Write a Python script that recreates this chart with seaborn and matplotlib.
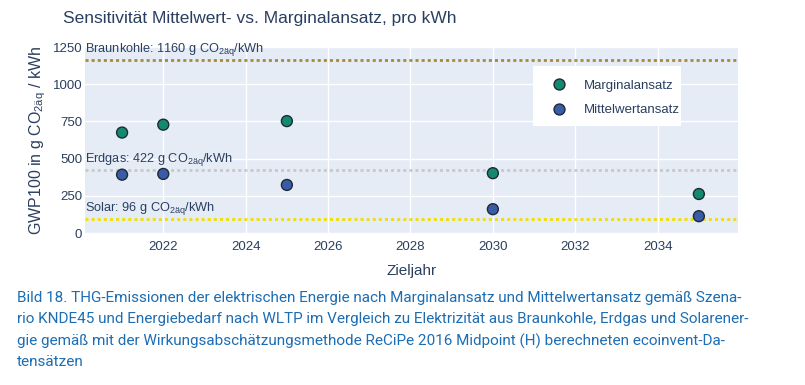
import pandas as pd
import matplotlib
matplotlib.use("Agg")
import matplotlib.pyplot as plt
import matplotlib.transforms as mtransforms
from matplotlib.patches import Rectangle
import seaborn as sns

# ---------------------------------------------------------------
# Daten
# ---------------------------------------------------------------
jahre = [2021, 2022, 2025, 2030, 2035]
marginal = [675, 728, 752, 402, 262]
mittelwert = [392, 397, 323, 160, 113]
reihen = ["Marginalansatz", "Mittelwertansatz"]

referenz_namen = ["Braunkohle", "Erdgas", "Solar"]
referenz_werte = [1160, 422, 96]
referenz_farben = ["#a88a3c", "#c9c9c9", "#f0e000"]

yticks = [0, 250, 500, 750, 1000, 1250]
xticks = [2022, 2024, 2026, 2028, 2030, 2032, 2034]

df = pd.DataFrame({
    "Zieljahr": jahre * 2,
    "GWP": marginal + mittelwert,
    "Ansatz": [reihen[0]] * len(jahre) + [reihen[1]] * len(jahre),
})

TXT = "#2a3f5f"
sns.set_theme(style="darkgrid", rc={
    "axes.facecolor": "#e5ecf6",
    "grid.color": "white",
    "grid.linewidth": 1.0,
})
plt.rcParams["font.family"] = ["Liberation Sans", "DejaVu Sans"]
plt.rcParams["lines.scale_dashes"] = False

fig = plt.figure(figsize=(8.05, 3.85), dpi=100)
ax = fig.add_axes([85 / 805, 1 - 233 / 385, 653 / 805, 186 / 385])

for name, wert, farbe in zip(referenz_namen, referenz_werte, referenz_farben):
    ax.axhline(wert, color=farbe, lw=2.0, ls=(0, (2.2, 2.2)), zorder=2)
    trans = mtransforms.blended_transform_factory(ax.transAxes, ax.transData)
    ax.annotate(f"{name}: {wert} g CO$_\\mathregular{{2äq}}$/kWh",
                xy=(0, wert), xycoords=trans, xytext=(0, 1.5), textcoords="offset points",
                ha="left", va="bottom", fontsize=9.2, color=TXT, zorder=3)

sns.scatterplot(data=df, x="Zieljahr", y="GWP", hue="Ansatz",
                palette=["#138a6f", "#3a5ba6"], s=62, edgecolor="#1e2a36",
                linewidth=1.0, ax=ax, zorder=4)

ax.set_xlim(2020.1, 2035.95)
ax.set_ylim(0, 1250)
ax.set_xticks(xticks)
ax.set_yticks(yticks)
ax.tick_params(colors=TXT, labelsize=9.5, length=0)
ax.tick_params(axis="y", pad=2)
ax.tick_params(axis="x", pad=6)
for s in ax.spines.values():
    s.set_visible(False)

ax.set_xlabel("Zieljahr", fontsize=11, color=TXT, labelpad=8)
ax.set_ylabel("GWP100 in g CO$_\\mathregular{2äq}$ / kWh", fontsize=11.5, color=TXT, labelpad=3)

# weisser Legendenkasten wie in der Vorlage (eng am Text)
ax.add_patch(Rectangle((448 / 653, 107 / 186), 148 / 653, 60 / 186,
                       transform=ax.transAxes, facecolor="white", edgecolor="none", zorder=4.5))
leg = ax.legend(loc="upper left", bbox_to_anchor=(0.677, 0.925), frameon=False,
                fontsize=9.5, labelcolor=TXT, borderpad=0.9, labelspacing=0.95,
                handletextpad=0.9, title=None)
leg.set_zorder(6)
for h in leg.legend_handles:
    h.set_markeredgecolor("#1e2a36")

fig.text(63 / 805, 1 - 18 / 385, "Sensitivität Mittelwert- vs. Marginalansatz, pro kWh",
         fontsize=12.5, color=TXT, ha="left", va="center")

caption = [
    "Bild 18. THG-Emissionen der elektrischen Energie nach Marginalansatz und Mittelwertansatz gemäß Szena-",
    "rio KNDE45 und Energiebedarf nach WLTP im Vergleich zu Elektrizität aus Braunkohle, Erdgas und Solarener-",
    "gie gemäß mit der Wirkungsabschätzungsmethode ReCiPe 2016 Midpoint (H) berechneten ecoinvent-Da-",
    "tensätzen",
]
for i, zeile in enumerate(caption):
    fig.text(17 / 805, 1 - (298 + i * 21.5) / 385, zeile, fontsize=11, color="#1c6db3",
             family=["Roboto", "DejaVu Sans"], fontweight="normal", ha="left", va="center")

fig.savefig("out.png", dpi=100)
